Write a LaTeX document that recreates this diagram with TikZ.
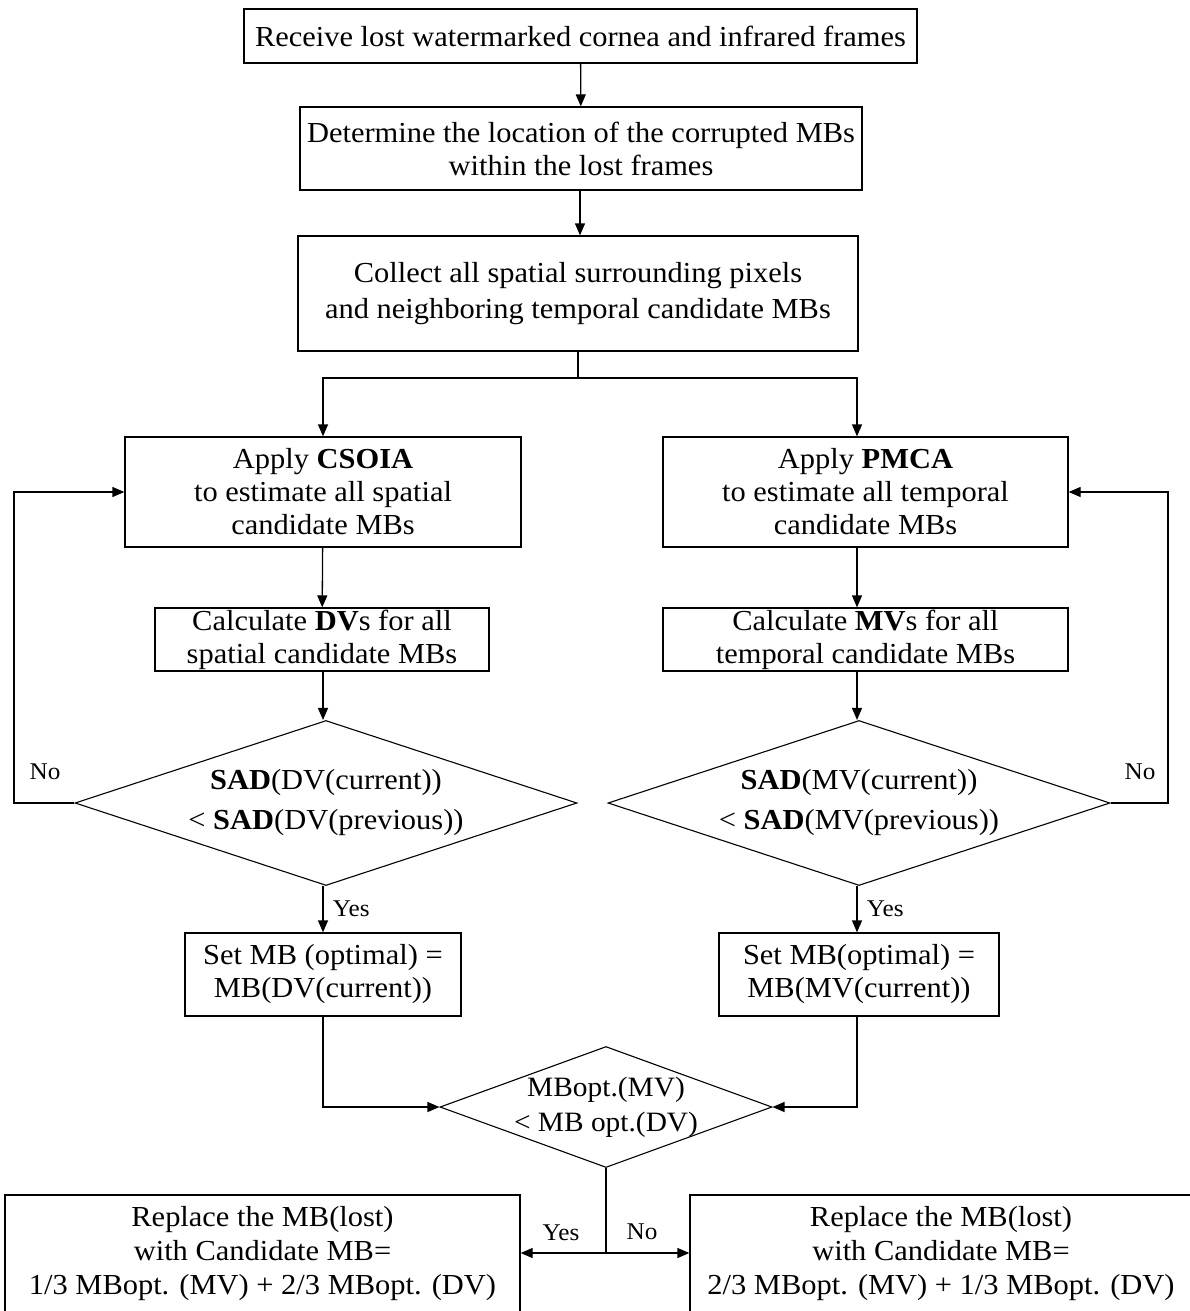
\documentclass[tikz,border=0pt]{standalone}
\usepackage{fontspec}
\setmainfont{Liberation Serif}[FakeStretch=1.05]
\usetikzlibrary{arrows.meta,shapes.geometric}

\begin{document}
\begin{tikzpicture}[x=1pt,y=-1pt,
  box/.style={draw,line width=1.3pt,align=center,inner sep=0pt,
    font=\fontsize{29}{33}\selectfont},
  dec/.style={draw,diamond,line width=1.1pt,align=center,inner sep=0pt,
    font=\fontsize{29}{40}\selectfont},
  arr/.style={line width=1.3pt,-{Triangle[length=12pt,width=10pt]}},
  ln/.style={line width=1.3pt},
  lbl/.style={font=\fontsize{24}{28}\selectfont}]
\useasboundingbox[fill=white] (0,0) rectangle (1189,1311);

% main column
\node[box,minimum width=673pt,minimum height=54pt] (recv) at (580.5,36)
  {Receive lost watermarked cornea and infrared frames};
\node[box,minimum width=562pt,minimum height=83pt] (locate) at (581,148.5)
  {Determine the location of the corrupted MBs\\ within the lost frames};
\node[box,minimum width=560pt,minimum height=115pt,
  font=\fontsize{29}{36}\selectfont] (collect) at (578,293.5)
  {Collect all spatial surrounding pixels\\ and neighboring temporal candidate MBs};

% spatial branch
\node[box,minimum width=396pt,minimum height=110pt] (csoia) at (323,492)
  {Apply \textbf{CSOIA}\\ to estimate all spatial\\ candidate MBs};
\node[box,minimum width=334pt,minimum height=63pt] (calcdv) at (322,639.5)
  {Calculate \textbf{DV}s for all\\ spatial candidate MBs};
\node[dec,shape aspect=3.04,minimum width=502pt,minimum height=165pt] (sadl) at (326,803)
  {\textbf{SAD}(DV(current))\\ < \textbf{SAD}(DV(previous))};
\node[box,minimum width=276pt,minimum height=83pt] (setl) at (323,974.5)
  {Set MB (optimal) =\\ MB(DV(current))};

% temporal branch
\node[box,minimum width=405pt,minimum height=110pt] (pmca) at (865.5,492)
  {Apply \textbf{PMCA}\\ to estimate all temporal\\ candidate MBs};
\node[box,minimum width=405pt,minimum height=63pt] (calcmv) at (865.5,639.5)
  {Calculate \textbf{MV}s for all\\ temporal candidate MBs};
\node[dec,shape aspect=3.04,minimum width=502pt,minimum height=165pt] (sadr) at (859,803)
  {\textbf{SAD}(MV(current))\\ < \textbf{SAD}(MV(previous))};
\node[box,minimum width=280pt,minimum height=83pt] (setr) at (859,974.5)
  {Set MB(optimal) =\\ MB(MV(current))};

% final comparison and replacement
\node[dec,shape aspect=2.74,inner ysep=-10pt,minimum width=332pt,minimum height=121pt,
  font=\fontsize{28}{35}\selectfont] (cmp) at (606,1107)
  {MBopt.(MV)\\ < MB opt.(DV)};
\node[box,minimum width=515pt,minimum height=118pt,
  font=\fontsize{29}{34}\selectfont] (repl) at (262.5,1254)
  {Replace the MB(lost)\\ with Candidate MB=\\ 1/3 MBopt. (MV) + 2/3 MBopt. (DV)};
\node[box,minimum width=502pt,minimum height=118pt,
  font=\fontsize{29}{34}\selectfont] (repr) at (941,1254)
  {Replace the MB(lost)\\ with Candidate MB=\\ 2/3 MBopt. (MV) + 1/3 MBopt. (DV)};

% helper points
\coordinate (split) at (578,378);
\coordinate (splitl) at (323,378);
\coordinate (splitr) at (857,378);
\coordinate (loopl) at (14,803);
\coordinate (loopr) at (1168,803);
\coordinate (fork) at (606,1253);

% connectors
\draw[arr] (recv) -- (locate);
\draw[arr] (locate.south -| 580,0) -- (collect.north -| 580,0);
\draw[ln] (collect.south) -- (split);
\draw[arr] (split) -- (splitl) -- (csoia.north);
\draw[arr] (split) -- (splitr) -- (splitr |- pmca.north);

\draw[arr] (csoia) -- (calcdv);
\draw[arr] (calcdv.south -| csoia.south) -- (sadl.north -| csoia.south);
\draw[arr] (sadl.south -| csoia.south) -- node[lbl,right=6pt,pos=0.5]{Yes} (setl.north -| csoia.south);
\draw[arr] (sadl.west) -- (loopl) -- (loopl |- csoia.west) -- (csoia.west);
\node[lbl] (nol) at (45,772) {No};

\draw[arr] (pmca.south -| splitr) -- (calcmv.north -| splitr);
\draw[arr] (calcmv.south -| splitr) -- (sadr.north -| splitr);
\draw[arr] (sadr.south -| splitr) -- node[lbl,right=6pt,pos=0.5]{Yes} (setr.north -| splitr);
\draw[arr] (sadr.east) -- (loopr) -- (loopr |- pmca.east) -- (pmca.east);
\node[lbl] (nor) at (1140,772) {No};

\draw[arr] (setl.south) -- (setl.south |- cmp.west) -- (cmp.west);
\draw[arr] (setr.south -| splitr) -- (splitr |- cmp.east) -- (cmp.east);

\draw[ln] (cmp.south) -- (fork);
\draw[arr] (fork) -- (repl.east |- fork);
\draw[arr] (fork) -- (repr.west |- fork);
\node[lbl] (yesb) at (561,1233) {Yes};
\node[lbl] (nob) at (642,1232) {No};
\end{tikzpicture}
\end{document}
